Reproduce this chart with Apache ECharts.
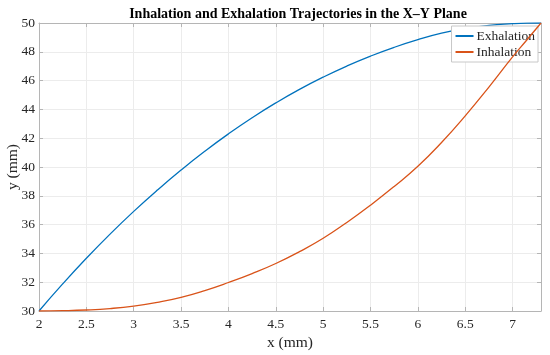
<!DOCTYPE html>
<html>
<head>
<meta charset="utf-8">
<script src="https://cdn.jsdelivr.net/npm/echarts@6/dist/echarts.min.js"></script>
<style>
html,body{margin:0;padding:0;background:#fff;}
#chart{width:550px;height:355px;}
</style>
</head>
<body>
<div id="chart"></div>
<script>
const xValues = [2.0, 2.25, 2.5, 2.75, 3.0, 3.25, 3.5, 3.75, 4.0, 4.25, 4.5, 4.75, 5.0, 5.25, 5.5, 5.75, 6.0, 6.25, 6.5, 6.75, 7.0, 7.15, 7.3];
const exhalation = [30.0, 31.88, 33.66, 35.34, 36.92, 38.40, 39.79, 41.09, 42.30, 43.42, 44.45, 45.39, 46.24, 47.01, 47.70, 48.31, 48.84, 49.29, 49.62, 49.84, 49.95, 49.99, 50.0];
const inhalation = [30.0, 30.02, 30.07, 30.17, 30.34, 30.60, 30.95, 31.42, 31.98, 32.60, 33.30, 34.12, 35.05, 36.15, 37.35, 38.65, 40.05, 41.70, 43.55, 45.55, 47.65, 48.82, 50.0];
const seriesNames = ['Exhalation', 'Inhalation'];
const xTicks = [2, 2.5, 3, 3.5, 4, 4.5, 5, 5.5, 6, 6.5, 7];
const yTicks = [30, 32, 34, 36, 38, 40, 42, 44, 46, 48, 50];

const font = 'Liberation Serif, Times New Roman, serif';
const axisGray = '#b5b5b5';
const textColor = '#262626';

const chart = echarts.init(document.getElementById('chart'), null, {renderer: 'canvas'});
const pairs = ys => xValues.map((x, i) => [x, ys[i]]);

const baseX = {
  type: 'value', min: xTicks[0], max: 7.3, interval: 0.5,
  axisLine: {show: true, lineStyle: {color: axisGray, width: 1}},
  axisTick: {show: true, inside: true, length: 4, lineStyle: {color: axisGray}},
  splitLine: {show: true, lineStyle: {color: '#ececec', width: 1}}
};
const baseY = {
  type: 'value', min: yTicks[0], max: yTicks[yTicks.length - 1], interval: 2,
  axisLine: {show: true, lineStyle: {color: axisGray, width: 1}},
  axisTick: {show: true, inside: true, length: 4, lineStyle: {color: axisGray}},
  splitLine: {show: true, lineStyle: {color: '#ececec', width: 1}}
};

chart.setOption({
  animation: false,
  backgroundColor: '#ffffff',
  title: {
    text: 'Inhalation and Exhalation Trajectories in the X\u2013Y Plane',
    left: 293, top: 2, textAlign: 'center',
    textStyle: {fontFamily: font, fontWeight: 'bold', fontSize: 14, color: '#000'}
  },
  legend: {
    data: seriesNames,
    orient: 'vertical',
    right: 12, top: 26,
    icon: 'rect',
    backgroundColor: '#fff',
    borderColor: '#c8c8c8', borderWidth: 1,
    padding: [3, 3, 3, 4],
    itemGap: 2,
    itemWidth: 18, itemHeight: 2,
    textStyle: {fontFamily: font, fontSize: 13.5, color: textColor, padding: [0, 0, 0, -2]}
  },
  grid: {left: 39, right: 9, top: 23, bottom: 44, containLabel: false, outerBoundsMode: 'none'},
  xAxis: [
    Object.assign({}, baseX, {
      position: 'bottom',
      name: 'x (mm)', nameLocation: 'middle', nameGap: 24, nameMoveOverlap: false,
      nameTextStyle: {fontFamily: font, fontSize: 15.5, color: textColor},
      axisLabel: {
        fontFamily: font, fontSize: 13.5, color: textColor, margin: 6,
        showMaxLabel: false,
        formatter: v => (xTicks.indexOf(v) >= 0 ? String(v) : '')
      }
    }),
    Object.assign({}, baseX, {
      position: 'top',
      axisLabel: {show: false},
      splitLine: {show: false}
    })
  ],
  yAxis: [
    Object.assign({}, baseY, {
      position: 'left',
      name: 'y (mm)', nameLocation: 'middle', nameGap: 18, nameMoveOverlap: false,
      nameTextStyle: {fontFamily: font, fontSize: 15.5, color: textColor},
      axisLabel: {fontFamily: font, fontSize: 13.5, color: textColor, margin: 4}
    }),
    Object.assign({}, baseY, {
      position: 'right',
      axisLabel: {show: false},
      splitLine: {show: false}
    })
  ],
  series: [
    {
      name: seriesNames[0], type: 'line', xAxisIndex: 0, yAxisIndex: 0,
      data: pairs(exhalation), symbol: 'none', smooth: 0.5,
      lineStyle: {color: '#0072BD', width: 1.3},
      itemStyle: {color: '#0072BD'}, z: 3
    },
    {
      name: seriesNames[1], type: 'line', xAxisIndex: 0, yAxisIndex: 0,
      data: pairs(inhalation), symbol: 'none', smooth: 0.5,
      lineStyle: {color: '#D95319', width: 1.3},
      itemStyle: {color: '#D95319'}, z: 4
    }
  ]
});
</script>
</body>
</html>
